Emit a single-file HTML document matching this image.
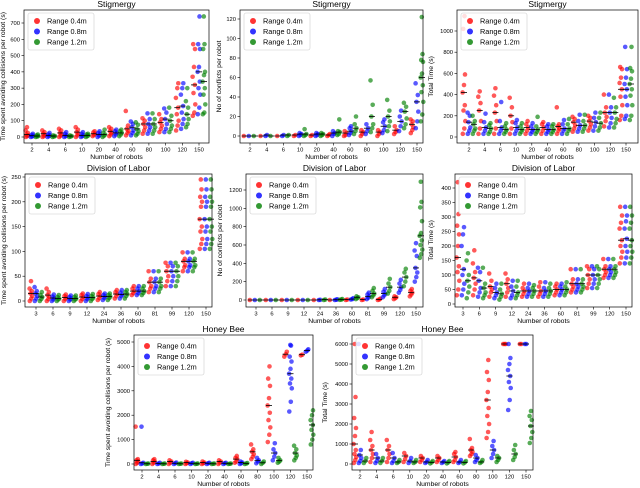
<!DOCTYPE html>
<html><head><meta charset="utf-8"><style>
html,body{margin:0;padding:0;background:#fff;}
svg{display:block;font-family:"Liberation Sans","DejaVu Sans",sans-serif;}
</style></head><body>
<svg id="fig" width="640" height="488" viewBox="0 0 640 488" xmlns="http://www.w3.org/2000/svg"></svg>
<script>
// ---- Categories ----
const catsStig = ["2","4","6","10","20","40","60","80","100","120","150"];
const catsDol = ["3","6","9","12","24","36","60","81","99","120","150"];
const seriesNames = ["Range 0.4m","Range 0.8m","Range 1.2m"];
const seriesColors = ["#ff0000","#0000ff","#008000"];

// ---- Stigmergy: collision time ----
const p1Red = [[0,5,10,15,25,40,60],[0,5,12,20,30,40],[0,8,15,25,40,50],[0,10,20,30,45,60],[5,12,20,28,35],[5,15,25,35,50,60],[10,25,35,50,70,160],[20,40,60,80,100,115],[30,50,70,90,110,140],[40,70,100,140,180,240,300,330],[130,150,200,270,320,370,430,540,570]];
const p1Blue = [[0,3,8,12,20],[0,5,10,15,25],[0,5,10,20,30],[0,5,10,20,30],[0,8,15,25,35],[5,15,25,35,45],[10,25,40,60,80,95],[20,40,60,80,110,145],[30,50,80,110,150,175],[50,80,110,150,190,260,300,330],[140,180,260,300,340,400,430,540,570,740]];
const p1Green = [[0,3,6,10,15],[0,3,6,10],[0,3,6,10],[0,5,10,15,20],[0,8,15,25,45],[5,15,25,35,45],[10,20,35,50,75,90],[20,40,60,80,110,145],[30,50,70,100,130,180],[60,80,110,140,180,220,300],[140,150,200,260,300,340,380,400,540,570,740]];
// ---- Stigmergy: conflicts ----
const p2Red = [[0],[0],[0],[0,1],[0,1],[0,1,2],[0,1,3,5],[0,2,4,6],[0,2,4,6],[2,4,6,10],[3,6,9,12,15,17]];
const p2Blue = [[0],[0,1],[0,1],[0,1,2,3],[0,1,2,3],[0,2,3,5],[1,3,5,8,10],[2,5,8,12],[3,6,10,14,17],[5,10,15,20,26],[8,15,25,35,42,54]];
const p2Green = [[0],[0],[0,1],[0,1,2,7],[0,1,2,3],[1,2,4,5,17],[2,5,8,12,20],[4,8,12,20,32,57],[5,10,15,20,26,37],[8,12,18,25,30,34],[15,22,35,45,52,60,64,76,78,84,122]];
// ---- Stigmergy: total time ----
const p3Red = [[30,80,150,250,300,420,490,590,1020,1140],[30,80,150,250,320,380,430],[30,80,150,230,300,390,460],[30,80,140,200,280,370],[30,60,90,120,150],[30,60,90,120,140],[30,60,80,100,120,280],[50,80,110,140,170,190],[60,90,120,150,180,200],[100,150,190,230,280,400],[160,200,300,380,450,510,560,640,660]];
const p3Blue = [[30,60,90,140,200,230],[30,60,90,140,220],[30,60,90,150,330],[30,60,90,130,160],[30,50,70,100,130],[30,50,70,100,120],[30,60,80,120,160],[50,80,110,150,210],[60,100,140,180,230],[90,130,180,230,280,400],[170,200,300,380,450,500,560,640,850]];
const p3Green = [[30,60,80,120,150,200],[30,50,80,110,130],[30,50,70,100,130],[30,50,70,100,130],[30,50,70,100,190],[30,50,70,100,120],[30,60,80,120,170],[50,80,110,150,210],[60,90,130,180,230],[90,130,170,230,280,370],[160,200,300,390,450,500,550,620,650,850]];
// ---- Division of Labor: collision time ----
const p4Red = [[0,5,10,15,20,25,40],[0,4,8,12,18,25],[0,4,7,10,13],[0,4,8,12,15],[2,6,10,14,18],[5,10,14,18,22],[12,16,20,25,30],[18,25,30,38,45,60],[30,40,50,60,70,77],[60,68,72,80,85,98],[105,115,125,140,150,165,190,200,210,225,245]];
const p4Blue = [[0,5,10,15,20,28],[0,3,6,9,13],[0,3,5,8,11],[0,4,7,10,14],[2,6,9,12,15],[5,10,13,17,22],[12,16,20,25,30],[18,25,30,38,45,60],[30,40,50,60,70,77],[60,68,72,80,85,98],[105,115,125,140,150,165,190,200,210,225,245]];
const p4Green = [[0,4,8,12,18],[0,3,5,8,12],[0,3,5,8,11],[0,4,7,10,14],[2,6,9,12,15],[5,10,14,18,22],[12,16,20,25,30],[18,25,30,38,45,60],[30,40,50,60,70,77],[60,68,72,80,85,98],[105,115,125,140,150,165,190,200,210,225,245]];
// ---- Division of Labor: conflicts ----
const p5Red = [[0],[0],[0],[0],[0],[0],[0,5],[0,5],[0,5,15],[10,20,30,40],[40,60,80,100,120]];
const p5Blue = [[0],[0],[0],[0],[0,2],[0,3,8],[5,10,20],[10,25,40,60,80],[30,50,70,90,120],[80,110,140,180,220],[200,250,300,350,480,540,620]];
const p5Green = [[0],[0],[0],[0],[0,5],[2,5,10],[10,20,30,40],[30,50,70,100,130],[70,100,140,180,230],[150,200,250,300,340],[460,500,550,600,650,700,730,860,1010,1070,1290]];
// ---- Division of Labor: total time ----
const p6Red = [[30,50,80,110,130,160,200,240,270,310,420],[30,50,70,90,110,140,185],[25,40,50,60,80,105],[25,40,55,70,85,105],[25,35,45,55,70],[25,35,45,60,75],[30,40,50,60,70],[40,50,60,70,85,120],[55,70,85,100,120,130],[90,100,110,120,130,155],[140,160,180,200,220,260,280,305,335]];
const p6Blue = [[30,50,70,100,120,200,240,265],[25,40,55,80,110,125],[20,30,40,55,70],[20,30,45,60,80],[25,35,45,55,70],[25,35,45,55,75],[30,40,50,60,70],[40,50,60,70,85,120],[55,70,85,100,120,130],[90,100,110,120,130,155],[140,160,180,200,225,260,285,305,335]];
const p6Green = [[20,40,60,80,100,150,175],[20,30,40,55,70,125],[15,25,35,50,70],[20,30,40,60,80],[25,35,45,55,65],[25,35,45,55,70],[30,40,50,60,75],[40,50,60,70,85,120],[55,70,85,100,120,130],[90,100,110,120,130,155],[140,160,180,200,220,260,280,305,335]];
// ---- Honey Bee: collision time ----
const p7Red = [[0,50,100,150,200,1530],[0,50,100,150,200],[0,50,100,150],[0,30,60,90],[0,30,60,100],[0,50,100,150],[50,100,200,250,330],[200,300,400,500,600,800],[900,1200,1500,1800,2100,2400,2700,3200,3500,4000],[4400,4500,4600],[4450,4480]];
const p7Blue = [[0,20,50,1530],[0,20,50],[0,30,60],[0,30,50],[0,30,50],[0,30,50],[0,30,60,100],[30,100,150,250],[150,300,450,600,850],[2150,2550,3100,3300,3500,3700,3900,4200,4400,4850,4880],[4600,4650,4700]];
const p7Green = [[0,10,20],[0,10,20],[0,10,20],[0,10,20],[0,10,20],[0,10,20],[0,20,40],[0,50,100],[50,100,150,250],[150,250,350,450,600,750],[800,1000,1200,1400,1600,1800,2000,2200]];
// ---- Honey Bee: total time ----
const p8Red = [[50,200,350,500,700,1000,1400,1800,2300,3350,6000],[100,300,500,700,900,1200,1600],[100,300,500,700,900,1200],[100,250,400,550],[100,200,300,400],[100,200,300,400],[100,200,350,500,600],[400,500,600,700,800,1250],[1300,1600,2000,2400,2800,3200,3600,4200,4600,5200],[6000,6000,6000],[6000,6000]];
const p8Blue = [[50,150,300,450,700,6000],[50,150,300,500],[50,150,300,550],[50,150,300],[50,100,200],[50,100,150],[50,100,200],[100,200,300,450],[300,500,700,900,1150],[2700,3200,3800,4100,4400,4700,5000,5300,6000],[6000,6000]];
const p8Green = [[50,150,300],[50,150,300],[50,100,200],[50,100,200],[30,80,150],[30,80,150],[30,80,150],[50,100,200],[100,200,300,400],[200,350,500,700,950],[1050,1300,1600,1900,2200,2400,2650]];

// ---- tick labels ----
const p1Ticks = [0,100,200,300,400,500,600,700];
const p2Ticks = [0,20,40,60,80,100,120];
const p3Ticks = [0,200,400,600,800,1000];
const p4Ticks = [0,50,100,150,200,250];
const p5Ticks = [0,200,400,600,800,1000,1200];
const p6Ticks = [0,50,100,150,200,250,300,350,400];
const p7Ticks = [0,1000,2000,3000,4000,5000];
const p8Ticks = [0,1000,2000,3000,4000,5000,6000];

const NS = "http://www.w3.org/2000/svg";
const svg = document.getElementById("fig");
function mk(tag, attrs, parent){
  const e = document.createElementNS(NS, tag);
  for (const k in attrs) e.setAttribute(k, attrs[k]);
  parent.appendChild(e);
  return e;
}
const jit = [-1.2,0.3,1.3,-0.5,0.8,-1.4,0.0,1.0,-0.8,0.5,-0.2,1.4];

function plot(cfg){
  const g = mk("g", {}, svg);
  
  
  const [L,T,R,B] = cfg.box;
  const ys = v => cfg.y0 + (cfg.y1 - cfg.y0) * v / cfg.vTop;
  const n = cfg.cats.length;
  const xs = i => cfg.x0 + (cfg.x1 - cfg.x0) * i / (n - 1);
  const t = mk("text", {x:(L+R)/2, y:T-3, "text-anchor":"middle", "font-size":"8.5"}, g);
  t.textContent = cfg.title;
  
  
  cfg.ticks.forEach(v => {
    const y = ys(v);
    mk("line", {x1:L-2.5, x2:L, y1:y, y2:y, stroke:"#000", "stroke-width":0.6}, g);
    const tl = mk("text", {x:L-4, y:y+2, "text-anchor":"end", "font-size":"5.8"}, g);
    tl.textContent = v;
    
    
  });
  cfg.cats.forEach((c,i) => {
    const x = xs(i);
    mk("line", {x1:x, x2:x, y1:B, y2:B+2.5, stroke:"#000", "stroke-width":0.6}, g);
    const tl = mk("text", {x:x, y:B+8.5, "text-anchor":"middle", "font-size":"5.8"}, g);
    tl.textContent = c;
    
    
  });
  const xl = mk("text", {x:(L+R)/2, y:B+16, "text-anchor":"middle", "font-size":"6.8"}, g);
  xl.textContent = "Number of robots";
  
  
  const yx = cfg.ylx, yy = (T+B)/2;
  const yl = mk("text", {x:yx, y:yy, "text-anchor":"middle", "font-size":"6.8", transform:`rotate(-90 ${yx} ${yy})`}, g);
  yl.textContent = cfg.ylabel;
  
  
  const offs = [-5, 0, 5];
  cfg.series.forEach((ser, s) => {
    ser.forEach((vals, i) => {
      const cx = xs(i) + offs[s];
      vals.forEach((v, j) => {
        const p = mk("circle", {cx:cx + jit[j % jit.length], cy:ys(v), r:2.3, fill:seriesColors[s], "fill-opacity":0.65}, g);
        
        
      });
      const sorted = vals.slice().sort((a,b)=>a-b);
      const med = sorted[Math.floor(sorted.length/2)];
      const m = mk("line", {x1:cx-3, x2:cx+3, y1:ys(med), y2:ys(med), stroke:"#000", "stroke-width":0.8}, g);
      
      
    });
  });
  mk("rect", {x:L, y:T, width:R-L, height:B-T, fill:"none", stroke:"#000", "stroke-width":0.7}, g);
  const lg = mk("g", {}, g);
  
  
  const lx = L+4, ly = T+3;
  mk("rect", {x:lx, y:ly, width:66, height:37, rx:2, fill:"#fff", "fill-opacity":0.8, stroke:"#ccc", "stroke-width":0.6}, lg);
  seriesNames.forEach((nm, s) => {
    const e = mk("g", {}, lg);
    
    
    const yy2 = ly + 8 + s*10.5;
    mk("circle", {cx:lx+9, cy:yy2, r:3, fill:seriesColors[s], "fill-opacity":0.8}, e);
    const tx = mk("text", {x:lx+19, y:yy2+2.6, "font-size":"7.3"}, e);
    tx.textContent = nm;
  });
}

plot({name:"stigmergy-collision-chart", title:"Stigmergy", box:[24,10,209,143], x0:32, x1:199, y0:137, y1:23, vTop:700, ticks:p1Ticks, cats:catsStig, series:[p1Red,p1Blue,p1Green], ylabel:"Time spent avoiding collisions per robot (s)", ylx:5});
plot({name:"stigmergy-conflicts-chart", title:"Stigmergy", box:[240,10,423,143], x0:250, x1:417, y0:136, y1:19, vTop:120, ticks:p2Ticks, cats:catsStig, series:[p2Red,p2Blue,p2Green], ylabel:"No of conflicts per robot", ylx:221});
plot({name:"stigmergy-total-time-chart", title:"Stigmergy", box:[457,10,638,143], x0:469, x1:626, y0:137, y1:31, vTop:1000, ticks:p3Ticks, cats:catsStig, series:[p3Red,p3Blue,p3Green], ylabel:"Total Time (s)", ylx:433});
plot({name:"dol-collision-chart", title:"Division of Labor", box:[25,174,212,307], x0:36, x1:206, y0:301, y1:177, vTop:250, ticks:p4Ticks, cats:catsDol, series:[p4Red,p4Blue,p4Green], ylabel:"Time spent avoiding collisions per robot (s)", ylx:6});
plot({name:"dol-conflicts-chart", title:"Division of Labor", box:[246,174,423,307], x0:256, x1:416, y0:300, y1:190, vTop:1200, ticks:p5Ticks, cats:catsDol, series:[p5Red,p5Blue,p5Green], ylabel:"No of conflicts per robot", ylx:222});
plot({name:"dol-total-time-chart", title:"Division of Labor", box:[455,174,632,307], x0:463, x1:626, y0:304, y1:188, vTop:400, ticks:p6Ticks, cats:catsDol, series:[p6Red,p6Blue,p6Green], ylabel:"Total Time (s)", ylx:433});
plot({name:"honeybee-collision-chart", title:"Honey Bee", box:[134,335,313,470], x0:142, x1:307, y0:464, y1:342, vTop:5000, ticks:p7Ticks, cats:catsStig, series:[p7Red,p7Blue,p7Green], ylabel:"Time spent avoiding collisions per robot (s)", ylx:110});
plot({name:"honeybee-total-time-chart", title:"Honey Bee", box:[352,335,533,470], x0:360, x1:526, y0:464, y1:344, vTop:6000, ticks:p8Ticks, cats:catsStig, series:[p8Red,p8Blue,p8Green], ylabel:"Total Time (s)", ylx:327});
</script>
</body></html>
